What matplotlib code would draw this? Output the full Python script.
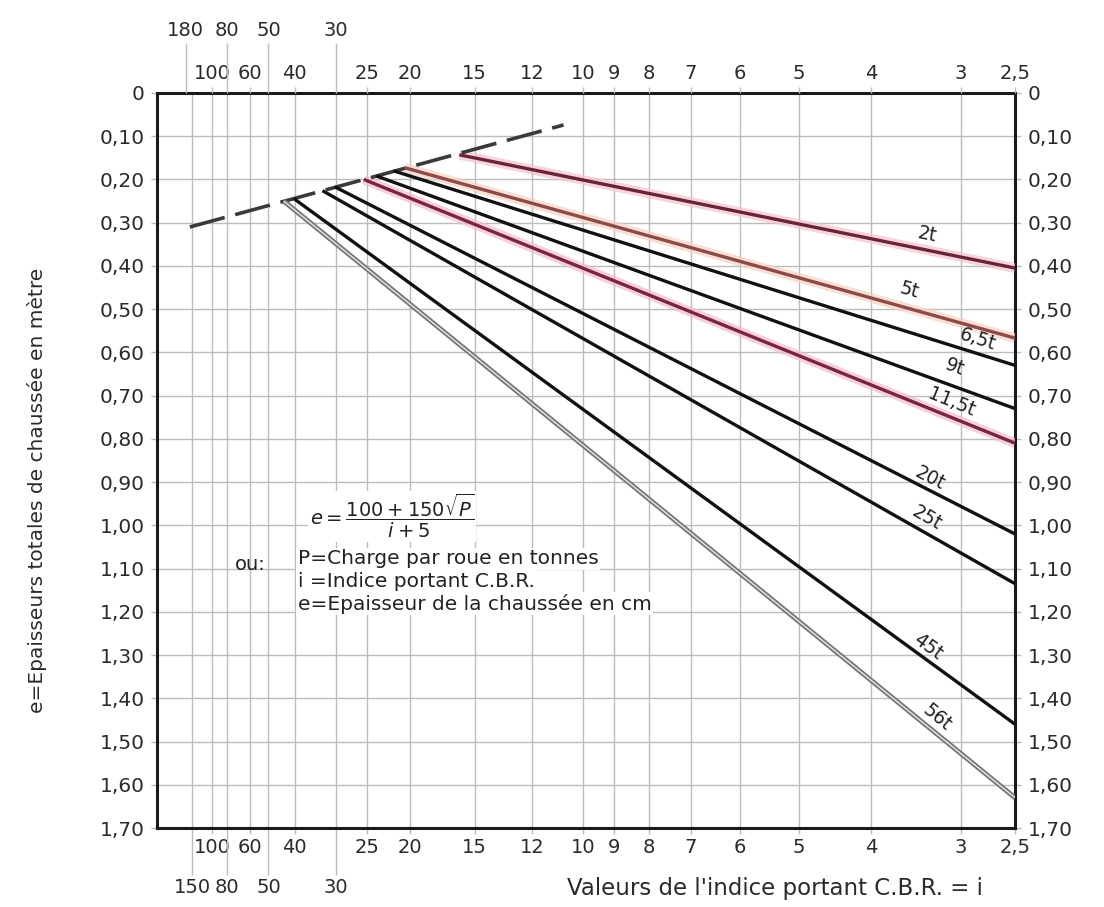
import numpy as np
import matplotlib
matplotlib.use('Agg')
import matplotlib.pyplot as plt

# CBR index values shown on the x axis (scale is linear in 1/(i+5))
cbr_major = [100, 60, 40, 25, 20, 15, 12, 10, 9, 8, 7, 6, 5, 4, 3, 2.5]
cbr_major_labels = ['100', '60', '40', '25', '20', '15', '12', '10', '9', '8', '7', '6', '5', '4', '3', '2,5']
cbr_bottom_minor = [150, 80, 50, 30]
cbr_top_minor = [180, 80, 50, 30]

# thickness axis (m)
e_ticks = [0.0, 0.1, 0.2, 0.3, 0.4, 0.5, 0.6, 0.7, 0.8, 0.9, 1.0, 1.1, 1.2, 1.3, 1.4, 1.5, 1.6, 1.7]
e_labels = ['0', '0,10', '0,20', '0,30', '0,40', '0,50', '0,60', '0,70', '0,80', '0,90',
            '1,00', '1,10', '1,20', '1,30', '1,40', '1,50', '1,60', '1,70']

# wheel loads and their lines (start on the dashed line, end at i = 2.5)
loads = ['2t', '5t', '6,5t', '9t', '11,5t', '20t', '25t', '45t', '56t']
i_start = [16.0, 20.5, 21.7, 23.7, 25.4, 30.2, 32.7, 40.3, 43.7]
e_start = [0.143, 0.173, 0.180, 0.192, 0.200, 0.217, 0.226, 0.244, 0.250]
i_end = 2.5
e_end = [0.405, 0.567, 0.630, 0.730, 0.810, 1.020, 1.135, 1.460, 1.630]

# where the load names are written
label_i = [3.35, 3.54, 2.84, 3.06, 3.09, 3.32, 3.35, 3.34, 3.24]
label_e = [0.328, 0.456, 0.571, 0.634, 0.715, 0.890, 0.983, 1.281, 1.445]

# dashed line of starting points
dash_i = [160, 10.7]
dash_e = [0.31, 0.074]

line_colors = ['#6a2438', '#8c4a48', '#111111', '#111111', '#7a2445',
               '#111111', '#111111', '#111111', '#777777']
halo_colors = ['#f2c4cc', '#f6d2c4', None, None, '#f2bccb', None, None, None, None]


def fwd(i):
    i = np.asarray(i, dtype=float)
    return -1.0 / (i + 5.0)


def inv(u):
    u = np.asarray(u, dtype=float)
    with np.errstate(divide='ignore', invalid='ignore'):
        return -1.0 / u - 5.0


plt.rcParams['font.family'] = ['DejaVu Sans']
plt.rcParams['mathtext.fontset'] = 'dejavusans'

fig = plt.figure(figsize=(11.04, 9.07), dpi=100)
ax = fig.add_axes([0.1422, 0.0871, 0.7772, 0.8104])
ax.set_xscale('function', functions=(fwd, inv))
ax.set_xlim(1000, 2.5)
ax.set_ylim(1.70, 0)

grid_col = '#bcbcbc'
txt_col = '#2a2a2a'

# bottom x axis
ax.set_xticks(cbr_major, labels=cbr_major_labels)
ax.set_xticks(cbr_bottom_minor, labels=[str(v) for v in cbr_bottom_minor], minor=True)
ax.tick_params(axis='x', which='major', length=4, width=1, pad=3, labelsize=14,
               color=grid_col, labelcolor=txt_col)
ax.tick_params(axis='x', which='minor', length=34, width=1, pad=2, labelsize=14,
               color=grid_col, labelcolor=txt_col)
ax.grid(True, axis='x', which='both', color=grid_col, lw=1.0)

# y axis on both sides
ax.set_yticks(e_ticks, labels=e_labels)
ax.tick_params(axis='y', which='major', length=4, width=1, pad=5, labelsize=14.5,
               left=True, right=True, labelleft=True, labelright=True,
               color=grid_col, labelcolor=txt_col)
ax.grid(True, axis='y', which='major', color=grid_col, lw=1.0)
ax.set_axisbelow(True)

for sp in ax.spines.values():
    sp.set_linewidth(2.2)
    sp.set_color('#1a1a1a')

# top x axis
top = ax.twiny()
top.set_xscale('function', functions=(fwd, inv))
top.set_xlim(ax.get_xlim())
top.set_xticks(cbr_major, labels=cbr_major_labels)
top.set_xticks(cbr_top_minor, labels=[str(v) for v in cbr_top_minor], minor=True)
top.tick_params(axis='x', which='major', length=4, width=1, pad=3, labelsize=14,
                color=grid_col, labelcolor=txt_col)
top.tick_params(axis='x', which='minor', length=36, width=1, pad=2, labelsize=14,
                color=grid_col, labelcolor=txt_col)
for sp in top.spines.values():
    sp.set_visible(False)

# dashed line of starting points
ax.plot(dash_i, dash_e, color='#3a3a3a', lw=2.6, dashes=(10, 3), zorder=4)

# load lines
for k in range(len(loads)):
    xs = [i_start[k], i_end]
    ys = [e_start[k], e_end[k]]
    if halo_colors[k]:
        ax.plot(xs, ys, color=halo_colors[k], lw=7, alpha=0.7, zorder=3,
                solid_capstyle='butt')
    if loads[k] == '56t':
        ax.plot(xs, ys, color=line_colors[k], lw=3.6, zorder=4, solid_capstyle='butt')
        ax.plot(xs, ys, color='#e6e6e6', lw=1.0, zorder=5, solid_capstyle='butt')
    else:
        ax.plot(xs, ys, color=line_colors[k], lw=2.4, zorder=4, solid_capstyle='butt')

    p0 = ax.transData.transform((i_start[k], e_start[k]))
    p1 = ax.transData.transform((i_end, e_end[k]))
    ang = np.degrees(np.arctan2(p1[1] - p0[1], p1[0] - p0[0]))
    ax.text(label_i[k], label_e[k], loads[k], rotation=ang, rotation_mode='anchor',
            ha='center', va='center', fontsize=13.5, color='#222222', zorder=6)

# formula and legend
ax.text(0.178, 0.424, r'$e=\dfrac{100+150\sqrt{P}}{i+5}$', transform=ax.transAxes,
        fontsize=14, color='#222222', ha='left', va='center', zorder=6,
        bbox=dict(facecolor='white', edgecolor='none', pad=1))
ax.text(0.091, 0.358, 'ou:', transform=ax.transAxes, fontsize=14, color='#222222',
        ha='left', va='center', zorder=6)
notes = ['P=Charge par roue en tonnes', 'i =Indice portant C.B.R.',
         'e=Epaisseur de la chaussée en cm']
note_y = [0.366, 0.336, 0.305]
for t, yy in zip(notes, note_y):
    ax.text(0.164, yy, t, transform=ax.transAxes, fontsize=14.5, color='#222222',
            ha='left', va='center', zorder=6,
            bbox=dict(facecolor='white', edgecolor='none', pad=1))

ax.set_ylabel('e=Epaisseurs totales de chaussée en mètre', fontsize=14.5, color=txt_col)
ax.yaxis.set_label_coords(-0.128, 0.46)
ax.text(0.72, -0.082, "Valeurs de l'indice portant C.B.R. = i", transform=ax.transAxes,
        fontsize=16.5, color=txt_col, ha='center', va='center')

fig.savefig('out.png', dpi=100)
